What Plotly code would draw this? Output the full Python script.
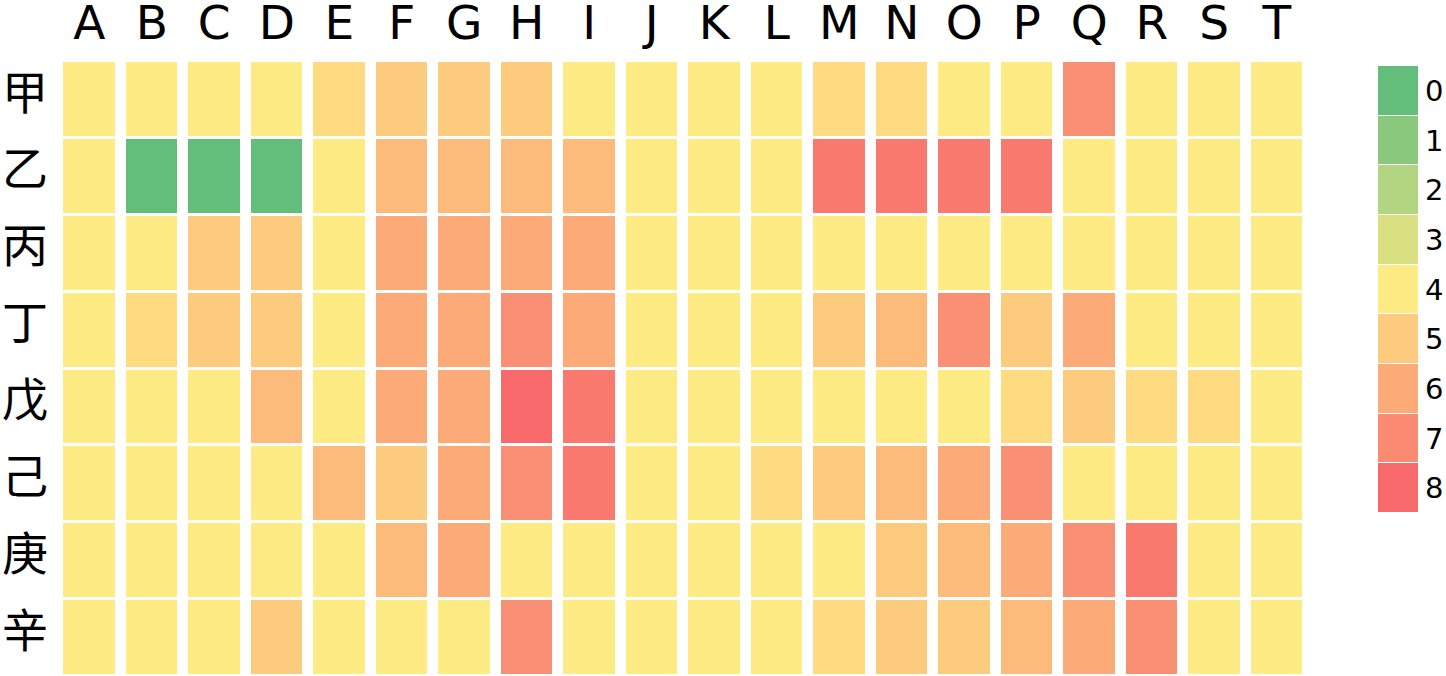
import plotly.graph_objects as go

columns = list("ABCDEFGHIJKLMNOPQRST")
rows = ["甲", "乙", "丙", "丁", "戊", "己", "庚", "辛"]

row_jia  = [4, 4, 4, 4, 4.5, 5, 5, 5, 4, 4, 4, 4, 4.5, 4.5, 4, 4, 6.8, 4, 4, 4]
row_yi   = [4, 0, 0, 0, 4, 5.5, 5.5, 5.5, 5.5, 4, 4, 4, 7.5, 7.5, 7.5, 7.5, 4, 4, 4, 4]
row_bing = [4, 4, 5, 5, 4, 6, 6, 6, 6, 4, 4, 4, 4, 4, 4, 4, 4, 4, 4, 4]
row_ding = [4, 4.5, 5, 5, 4, 6, 6, 6.8, 6, 4, 4, 4, 5, 5.5, 6.8, 5, 6, 4, 4, 4]
row_wu   = [4, 4, 4, 5.5, 4, 6, 6, 8, 7.5, 4, 4, 4, 4, 4, 4, 4.5, 5, 4.5, 4.5, 4]
row_ji   = [4, 4, 4, 4, 5.5, 5, 6, 6.8, 7.5, 4, 4, 4.5, 5, 5.5, 6, 6.8, 4, 4, 4, 4]
row_geng = [4, 4, 4, 4, 4, 5.5, 6, 4, 4, 4, 4, 4, 4, 5, 5.5, 6, 6.8, 7.5, 4, 4]
row_xin  = [4, 4, 4, 5, 4, 4, 4, 6.8, 4, 4, 4, 4, 4.5, 5, 5, 5.5, 6, 6.8, 4, 4]

legend_levels = [0, 1, 2, 3, 4, 5, 6, 7, 8]

z = [row_jia, row_yi, row_bing, row_ding, row_wu, row_ji, row_geng, row_xin]

colorscale = [[0.0, "#63BE7B"], [0.5, "#FFEB84"], [1.0, "#F8696B"]]
FONT = "DejaVu Sans, Noto Sans CJK SC, sans-serif"

fig = go.Figure()
fig.add_trace(go.Heatmap(
    z=z, x=columns, y=rows, colorscale=colorscale, zmin=0, zmax=8,
    xgap=11, ygap=3, showscale=False, xaxis="x", yaxis="y",
))
fig.add_trace(go.Heatmap(
    z=[[v] for v in legend_levels], x=[0], y=legend_levels,
    colorscale=colorscale, zmin=0, zmax=8, ygap=1, showscale=False,
    xaxis="x2", yaxis="y2",
))

W, H = 1446, 676
L, R, T, B = 58, 0, 61, 0
pw = W - L - R
ph = H - T - B

def px_x(v):
    return (v - L) / pw

def px_y(v):
    return 1 - (v - T) / ph

fig.update_layout(
    width=W, height=H,
    margin=dict(l=L, r=R, t=T, b=B, autoexpand=False),
    paper_bgcolor="white", plot_bgcolor="white",
    font=dict(family=FONT, color="black"),
    xaxis=dict(domain=[0, px_x(1308)], side="top", showgrid=False, zeroline=False,
               tickfont=dict(size=47), ticks="", showline=False, automargin=False,
               ticklabelstandoff=12),
    yaxis=dict(domain=[0, 1], autorange="reversed", showgrid=False, zeroline=False,
               tickfont=dict(size=46), ticks="", showline=False, automargin=False,
               ticklabelstandoff=9, ticklabelshift=7),
    xaxis2=dict(domain=[px_x(1378), px_x(1418)], anchor="y2", showgrid=False,
                zeroline=False, showticklabels=False, ticks="", automargin=False),
    yaxis2=dict(domain=[px_y(513), px_y(66)], anchor="x2", side="right",
                autorange="reversed", showgrid=False, zeroline=False, ticks="",
                tickvals=legend_levels, tickfont=dict(size=29), automargin=False,
                ticklabelstandoff=6),
)

fig.write_html(
    "out.html",
    config={"displayModeBar": False, "staticPlot": True},
    post_script="document.body.style.margin='0px';document.body.style.overflow='hidden';",
)
